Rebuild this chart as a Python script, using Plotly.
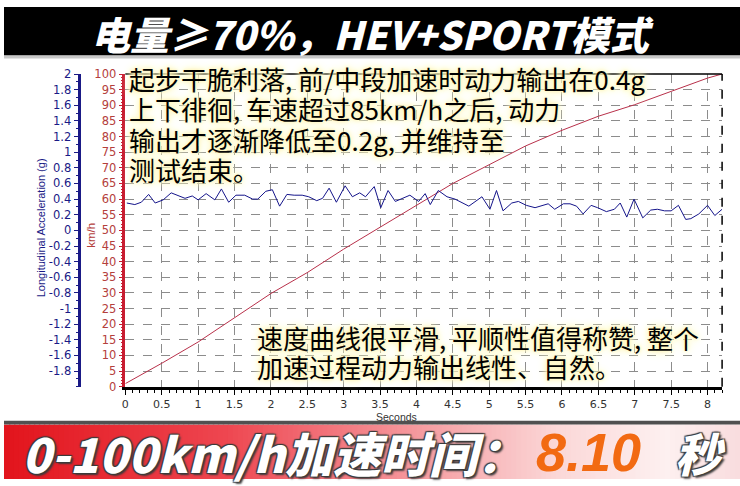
import plotly.graph_objects as go

# speed trace (km/h vs seconds)
speed_time = [0, 0.5, 1, 1.5, 2, 2.5, 3, 3.5, 4, 4.5, 5, 5.5, 6, 6.5, 7, 7.5, 8, 8.2]
speed_kmh = [1, 7.5, 14.3, 22, 29.8, 36.5, 44, 51, 58, 65, 71, 77, 82, 86.5, 90.2, 94.5, 98.7, 100]

# longitudinal acceleration trace (g vs seconds)
accel_time = [0.02, 0.13, 0.22, 0.32, 0.41, 0.52, 0.63, 0.75, 0.82, 0.92, 1.0, 1.11, 1.23, 1.32,
              1.42, 1.52, 1.64, 1.75, 1.82, 1.93, 2.02, 2.12, 2.22, 2.32, 2.43, 2.52, 2.63, 2.71,
              2.80, 2.90, 3.02, 3.12, 3.22, 3.30, 3.42, 3.51, 3.61, 3.71, 3.80, 3.91, 4.03, 4.12,
              4.19, 4.30, 4.42, 4.53, 4.72, 4.90, 5.01, 5.10, 5.19, 5.31, 5.40, 5.51, 5.63, 5.71,
              5.81, 5.90, 6.02, 6.11, 6.20, 6.29, 6.40, 6.49, 6.61, 6.72, 6.80, 6.89, 6.99, 7.11,
              7.22, 7.31, 7.41, 7.50, 7.60, 7.70, 7.77, 7.88, 8.00, 8.10, 8.20]
accel_g = [0.35, 0.33, 0.36, 0.46, 0.35, 0.39, 0.48, 0.44, 0.41, 0.44, 0.39, 0.47, 0.39, 0.53,
           0.36, 0.45, 0.45, 0.40, 0.40, 0.50, 0.52, 0.31, 0.46, 0.45, 0.45, 0.43, 0.38, 0.41,
           0.54, 0.36, 0.57, 0.43, 0.48, 0.43, 0.56, 0.29, 0.51, 0.37, 0.41, 0.45, 0.37, 0.47,
           0.33, 0.51, 0.43, 0.40, 0.31, 0.43, 0.27, 0.51, 0.25, 0.35, 0.37, 0.32, 0.29, 0.31,
           0.34, 0.27, 0.34, 0.34, 0.31, 0.21, 0.32, 0.29, 0.24, 0.27, 0.35, 0.17, 0.40, 0.16,
           0.26, 0.27, 0.25, 0.25, 0.32, 0.14, 0.15, 0.21, 0.32, 0.19, 0.27]

accel_ticks = [-1.8, -1.6, -1.4, -1.2, -1, -0.8, -0.6, -0.4, -0.2, 0,
               0.2, 0.4, 0.6, 0.8, 1, 1.2, 1.4, 1.6, 1.8, 2]
accel_tick_text = ["-1.8", "-1.6", "-1.4", "-1.2", "-1", "-0.8", "-0.6", "-0.4", "-0.2", "0",
                   "0.2", "0.4", "0.6", "0.8", "1", "1.2", "1.4", "1.6", "1.8", "2"]

title_text = "电量≥70%，HEV+SPORT模式"
note_top_lines = ["起步干脆利落, 前/中段加速时动力输出在0.4g",
                  "上下徘徊, 车速超过85km/h之后, 动力",
                  "输出才逐渐降低至0.2g, 并维持至",
                  "测试结束。"]
note_bottom_lines = ["速度曲线很平滑, 平顺性值得称赞, 整个",
                     "加速过程动力输出线性、自然。"]
banner_label = "0-100km/h加速时间："
banner_value = "8.10"
banner_unit = "秒"

W, H = 740, 486


def px_x(p):
    return p / W


def px_y(p):
    return 1 - p / H


CJK = "Noto Sans CJK SC"
NAVY = "#1a1a86"
RED_AX = "#c81e32"
RED_TXT = "#b4403c"
TICK_FONT = "DejaVu Sans"

fig = go.Figure()

fig.add_trace(go.Scatter(x=speed_time, y=speed_kmh, mode="lines", name="km/h",
                         line=dict(color="#b8304a", width=1), yaxis="y"))
fig.add_trace(go.Scatter(x=accel_time, y=accel_g, mode="lines", name="g",
                         line=dict(color="#14148a", width=1), yaxis="y2"))

fig.update_layout(
    width=W, height=H,
    margin=dict(l=0, r=0, t=0, b=0),
    paper_bgcolor="white", plot_bgcolor="white",
    showlegend=False,
    xaxis=dict(
        domain=[px_x(122), px_x(722)], range=[0, 8.2],
        tick0=0, dtick=0.5, ticks="outside", ticklen=5, tickcolor="black",
        minor=dict(dtick=0.1, ticks="outside", ticklen=3, tickcolor="black", showgrid=False),
        showgrid=True, gridcolor="#8c8c8c", griddash="dash", gridwidth=1,
        showline=True, linecolor="black", linewidth=3, zeroline=False,
        tickfont=dict(family=TICK_FONT, size=11, color="#333333"),
    ),
    yaxis=dict(
        domain=[px_y(391), px_y(69)], range=[0, 100],
        tick0=0, dtick=5, ticks="outside", ticklen=4, tickcolor=RED_AX,
        minor=dict(dtick=1, ticks="outside", ticklen=2, tickcolor=RED_AX, showgrid=False),
        showgrid=True, gridcolor="#8c8c8c", griddash="dash", gridwidth=1,
        showline=True, linecolor=RED_AX, linewidth=2.5, zeroline=False,
        tickfont=dict(family=TICK_FONT, size=11.5, color=RED_TXT),
    ),
    yaxis2=dict(
        overlaying="y", anchor="free", side="left", position=px_x(75),
        range=[-2, 2], tickmode="array", tickvals=accel_ticks, ticktext=accel_tick_text,
        ticks="outside", ticklen=4, tickcolor=NAVY,
        minor=dict(dtick=0.1, ticks="outside", ticklen=2, tickcolor=NAVY),
        showgrid=False, zeroline=False,
        showline=True, linecolor=NAVY, linewidth=3,
        tickfont=dict(family=TICK_FONT, size=11.5, color=NAVY),
    ),
)

shapes = []
# top black banner
shapes.append(dict(type="rect", xref="paper", yref="paper", x0=0, x1=1, y0=px_y(50), y1=1,
                   fillcolor="black", line=dict(width=0), layer="above"))
shapes.append(dict(type="rect", xref="paper", yref="paper", x0=0, x1=1, y0=px_y(53), y1=px_y(50),
                   fillcolor="#c8c8c8", line=dict(width=0), layer="above"))
# plot frame: top solid, right dashed
shapes.append(dict(type="line", xref="paper", yref="paper", x0=px_x(122), x1=px_x(722),
                   y0=px_y(69), y1=px_y(69), line=dict(color="black", width=1.5)))
shapes.append(dict(type="line", xref="paper", yref="paper", x0=px_x(722), x1=px_x(722),
                   y0=px_y(391), y1=px_y(69), line=dict(color="black", width=1.5, dash="dash")))

# bottom banner with red -> white gradient
stops = [(0.0, (226, 20, 28)), (0.3, (238, 70, 80)), (0.55, (245, 150, 155)),
         (0.75, (251, 215, 215)), (0.9, (253, 240, 240)), (1.0, (249, 220, 222))]


def grad_color(f):
    for (f0, c0), (f1, c1) in zip(stops[:-1], stops[1:]):
        if f0 <= f <= f1:
            k = (f - f0) / (f1 - f0)
            return "rgb(%d,%d,%d)" % tuple(round(a + (b - a) * k) for a, b in zip(c0, c1))
    return "rgb(%d,%d,%d)" % stops[-1][1]


n_strips = 148
for i in range(n_strips):
    shapes.append(dict(type="rect", xref="paper", yref="paper",
                       x0=i / n_strips, x1=(i + 1) / n_strips + 0.002,
                       y0=0, y1=px_y(430), fillcolor=grad_color((i + 0.5) / n_strips),
                       line=dict(width=0), layer="above"))
shapes.append(dict(type="rect", xref="paper", yref="paper", x0=0, x1=1, y0=px_y(430), y1=px_y(426),
                   fillcolor="#505050", line=dict(width=0), layer="above"))
fig.update_layout(shapes=shapes)

glow = "0 0 3px #fff6b8, 0 0 5px #fff6b8, 0 0 8px #fff6b8, 0 0 12px #fffad0"
outline = "2px 2px 2px #3a3a3a, -1px -1px 1px #3a3a3a, 1px -1px 1px #3a3a3a, -1px 1px 1px #3a3a3a"

annotations = [
    dict(text=title_text, x=px_x(370), y=px_y(27), xanchor="center", yanchor="middle",
         font=dict(family=CJK, size=39, color="white", weight=900, style="italic")),
    dict(text="Longitudinal Acceleration (g)", x=px_x(38), y=px_y(227), textangle=-90,
         xanchor="center", yanchor="middle",
         font=dict(family="Liberation Sans", size=11, color=NAVY)),
    dict(text="km/h", x=px_x(88), y=px_y(235), textangle=-90, xanchor="center", yanchor="middle",
         font=dict(family="Liberation Sans", size=11.5, color=RED_TXT)),
    dict(text="Seconds", x=px_x(395), y=px_y(422), xanchor="center", yanchor="middle",
         font=dict(family="Liberation Sans", size=10.5, color="#333333"), borderpad=0),
    dict(text=banner_label, x=px_x(16), y=px_y(458), xanchor="left", yanchor="middle",
         font=dict(family=CJK, size=48, color="white", weight=900, style="italic", shadow=outline)),
    dict(text=banner_value, x=px_x(588), y=px_y(458), xanchor="center", yanchor="middle",
         font=dict(family="Liberation Sans", size=54, color="#f26a12", weight="bold", style="italic")),
    dict(text=banner_unit, x=px_x(700), y=px_y(458), xanchor="center", yanchor="middle",
         font=dict(family=CJK, size=46, color="white", weight=900, style="italic", shadow=outline)),
]
# the two notes, one annotation per line
for i, line in enumerate(note_top_lines):
    annotations.append(dict(text=line, x=px_x(125), y=px_y(74 + 31 * i), xanchor="left",
                            yanchor="middle", borderpad=0,
                            font=dict(family=CJK, size=26, color="black", shadow=glow)))
for i, line in enumerate(note_bottom_lines):
    annotations.append(dict(text=line, x=px_x(253), y=px_y(340 + 30 * i), xanchor="left",
                            yanchor="middle", borderpad=0,
                            font=dict(family=CJK, size=26, color="black", shadow=glow)))
for a in annotations:
    a.update(xref="paper", yref="paper", showarrow=False)
fig.update_layout(annotations=annotations)

fig.write_html("out.html", config={"displayModeBar": False},
               post_script="document.body.style.margin='0';")
